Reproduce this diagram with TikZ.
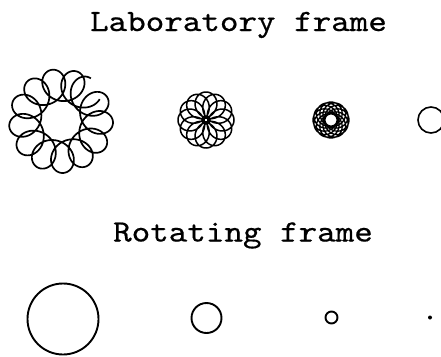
\documentclass[tikz,border=0pt]{standalone}
\usepackage{fontspec}
\usepackage{graphicx}
\newfontfamily\ttlfont[FakeBold=0.5]{lmmono10-regular.otf}
\tikzset{
  curve/.style={line width=1.7pt, line join=round},
  rotc/.style={circle, draw, line width=1.9pt, inner sep=0pt},
  ttl/.style={anchor=base, inner sep=0pt, font=\ttlfont\fontsize{31}{31}\selectfont},
}
\begin{document}
\begin{tikzpicture}[x=1pt,y=-1pt]
\useasboundingbox (0,0) rectangle (441,356);
\clip (0,0) rectangle (441,356);
\node[ttl] (lab) at (238.5,31) {\scalebox{1.14}[1]{Laboratory frame}};
\node[ttl] (rot) at (243,241.5) {\scalebox{1.14}[1]{Rotating frame}};
% laboratory frame trajectories
\coordinate (l1) at (61,121);
\coordinate (l2) at (206,120);
\coordinate (l3) at (331,120);
\coordinate (l4) at (431,120);
\draw[curve, shift={(l1)}] plot[domain=305:671, samples=1500, variable=\t]
  ({36*cos(\t)+16*cos(305-11.6*(\t-305))}, {36*sin(\t)+16*sin(305-11.6*(\t-305))});
\draw[curve, line width=1.5pt, shift={(l2)}] plot[domain=0:360, samples=1400, variable=\t]
  ({15*cos(\t)+13*cos(-11*\t)}, {15*sin(\t)+13*sin(-11*\t)});
\draw[curve, line width=1.3pt, shift={(l3)}] plot[domain=0:360, samples=1600, variable=\t]
  ({6*cos(\t)+12*cos(-11*\t)}, {6*sin(\t)+12*sin(-11*\t)});
\node[rotc, minimum size=26pt, line width=1.6pt] (c4) at (l4) {};
% rotating frame
\node[rotc, minimum size=71pt] (r1) at (63,319) {};
\node[rotc, minimum size=30pt] (r2) at (206.5,318) {};
\node[rotc, minimum size=12pt] (r3) at (331.5,317.5) {};
\fill (430,317.5) circle (2pt) coordinate (r4);
\end{tikzpicture}
\end{document}
